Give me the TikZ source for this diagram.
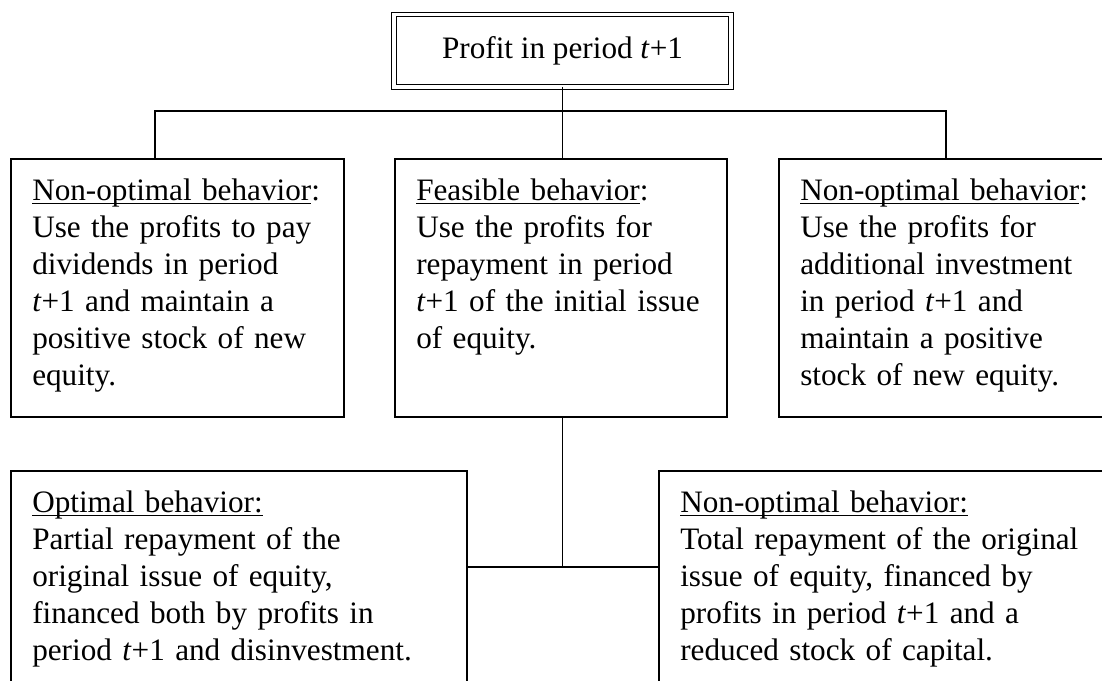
\documentclass[tikz,border=0pt]{standalone}
\usepackage{fontspec}
\setmainfont{Liberation Serif}
\usetikzlibrary{calc}
% underlined heading, the rule passes through the descenders
\newcommand\behav[1]{\setbox0\hbox{#1}\rlap{\rule[-3pt]{\wd0}{0.9pt}}\box0}

\begin{document}
\begin{tikzpicture}[x=0.75pt,y=-0.75pt,
  box/.style={draw,line width=0.9pt,inner sep=0pt,outer sep=0pt,anchor=north west,
    font=\fontsize{23.4}{27.75}\selectfont},
  txt/.style={anchor=base west,inner sep=0pt,text width=340pt,align=left,
    font=\fontsize{23.4}{27.75}\selectfont},
  link/.style={line width=0.9pt}]
\clip (0,0) rectangle (1102,681);
% profit box
\node[box,double,double distance=2.6pt,line width=0.9pt,
  minimum width=252.75pt,minimum height=54.4pt] (profit) at (394,14.5) {Profit in period \textit{t}+1};
% first row
\node[box,minimum width=249.75pt,minimum height=193.5pt] (nopay) at (11,159) {};
\node[box,minimum width=249pt,minimum height=193.5pt] (feasible) at (395,159) {};
\node[box,minimum width=248.25pt,minimum height=193.5pt] (noinvest) at (779,159) {};
\node[txt] (nopaytxt) at ($(nopay.north west)+(21,41)$)
  {\behav{Non-optimal behavior}:\\ Use the profits to pay\\ dividends in period\\
   \textit{t}+1 and maintain a\\ positive stock of new\\ equity.};
\node[txt] (feasibletxt) at ($(feasible.north west)+(21,41)$)
  {\behav{Feasible behavior}:\\ Use the profits for\\ repayment in period\\
   \textit{t}+1 of the initial issue\\ of equity.};
\node[txt] (noinvesttxt) at ($(noinvest.north west)+(21,41)$)
  {\behav{Non-optimal behavior}:\\ Use the profits for\\ additional investment\\
   in period \textit{t}+1 and\\ maintain a positive\\ stock of new equity.};
% second row
\node[box,minimum width=342pt,minimum height=171.75pt] (optimal) at (11,471) {};
\node[box,minimum width=338.25pt,minimum height=171.75pt] (norepay) at (659,471) {};
\node[txt] (optimaltxt) at ($(optimal.north west)+(21,41)$)
  {\behav{Optimal behavior:}\\ Partial repayment of the\\ original issue of equity,\\
   financed both by profits in\\ period \textit{t}+1 and disinvestment.};
\node[txt] (norepaytxt) at ($(norepay.north west)+(21,41)$)
  {\behav{Non-optimal behavior:}\\ Total repayment of the original\\ issue of equity, financed by\\
   profits in period \textit{t}+1 and a\\ reduced stock of capital.};
% connectors
\coordinate (splitL) at (155,111);
\coordinate (splitR) at (946,111);
\coordinate (join) at (562.5,567);
\draw[link] (profit.south) -- (profit.south |- feasible.north);
\draw[link] (splitL |- nopay.north) -- (splitL) -- (splitR) -- (splitR |- noinvest.north);
\draw[link] (join |- feasible.south) -- (join);
\draw[link] (optimal.east |- join) -- (norepay.west |- join);
\end{tikzpicture}
\end{document}
